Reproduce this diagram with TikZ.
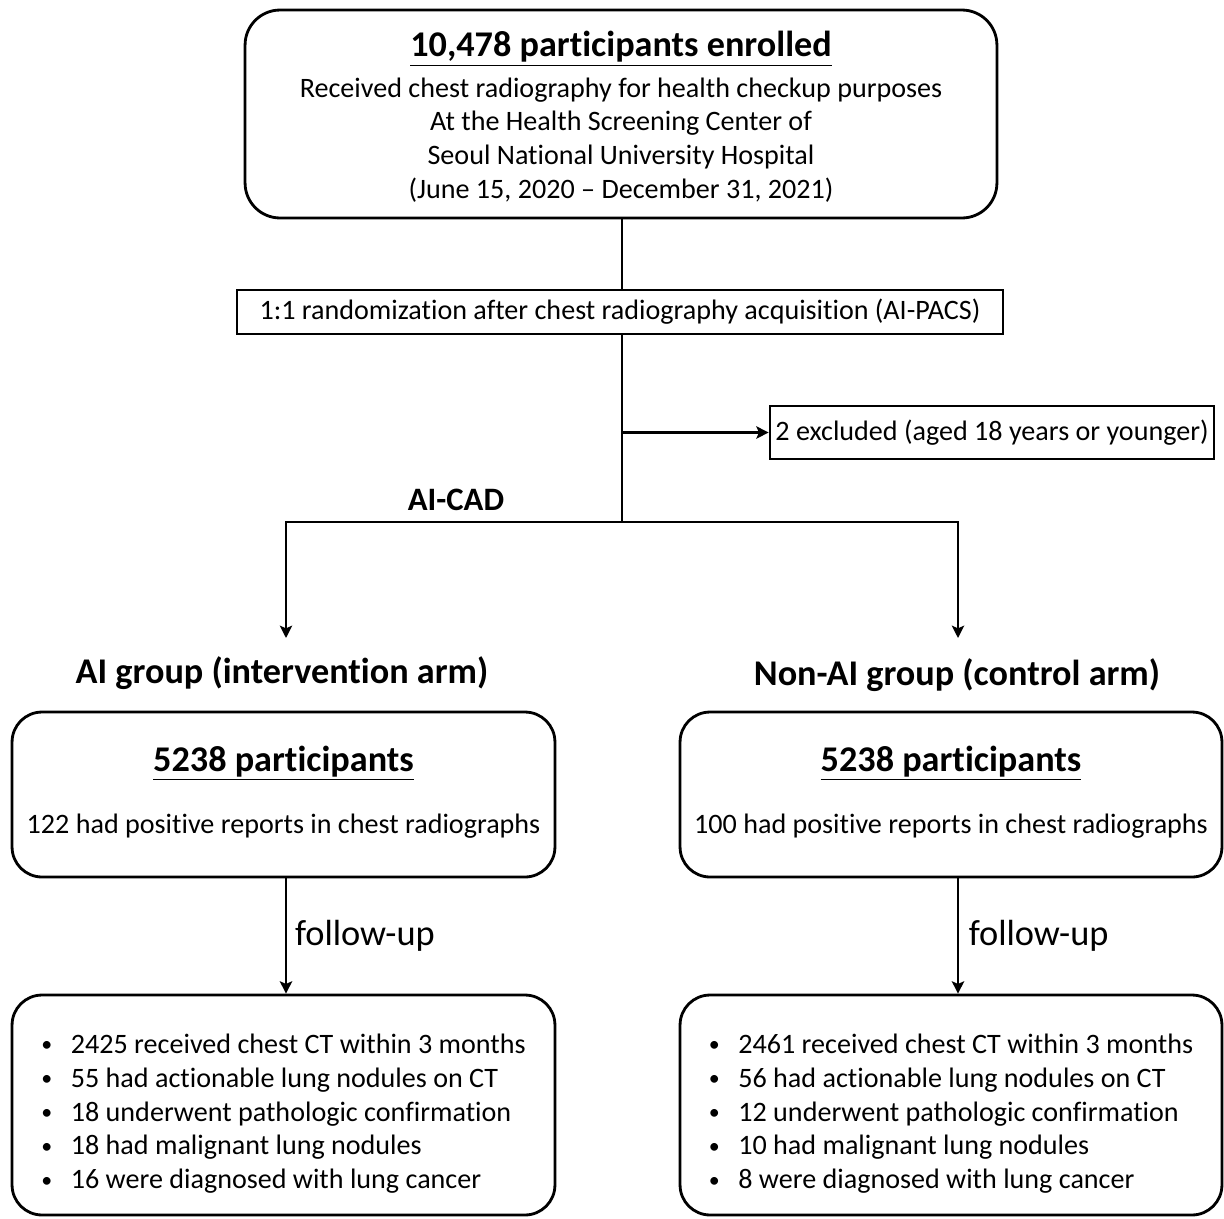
\documentclass[tikz,border=0pt]{standalone}
\usepackage{fontspec}
\setmainfont{Carlito}[Ligatures=NoCommon]
\usepackage{graphicx}
\usepackage{tikz}
\usetikzlibrary{arrows.meta,positioning,calc}
\newcommand{\bodyfont}{\fontsize{16}{19.3}\selectfont}
\newcommand{\bigbold}{\bfseries\fontsize{20.6}{24}\selectfont}
\newcommand{\itm}{\makebox[1.05em][l]{\raisebox{0.12ex}{\scalebox{0.78}{\textbullet}}}}
\tikzstyle{rbox}  = [rectangle, draw, line width=1.6pt, rounded corners=0.6cm,
                     align=center, inner sep=0pt, font=\bodyfont]
\tikzstyle{sbox}  = [rectangle, draw, line width=1.6pt, align=center, inner sep=0pt,
                     font=\bodyfont]
\tikzstyle{head}  = [font=\bigbold]
\tikzstyle{arrow} = [line width=1.6pt,-{Stealth[length=7pt,width=7pt,inset=1.5pt]}]
\tikzstyle{line}  = [line width=1.6pt]

\begin{document}
\begin{tikzpicture}[x=0.02cm,y=-0.02cm]
  \useasboundingbox (0,0) rectangle (1224,1218);

  % top of the chart
  \node[rbox, rounded corners=0.7cm, minimum width=15.04cm, minimum height=4.16cm] (enrol) at (621,114)
    {\rule{0pt}{18pt}{\bigbold\underline{10,478 participants enrolled}}\\[3.5pt]
     Received chest radiography for health checkup purposes\\
     At the Health Screening Center of\\
     Seoul National University Hospital\\
     (June 15, 2020 -- December 31, 2021)};
  \node[sbox, minimum width=15.32cm, minimum height=0.88cm] (rand) at (620,312)
    {1:1 randomization after chest radiography acquisition (AI-PACS)};
  \node[sbox, minimum width=8.88cm, minimum height=1.06cm] (excl) at (992,432.5)
    {2 excluded (aged 18 years or younger)};

  \coordinate (split) at (622,522);
  \coordinate (excljoin) at (split |- excl.west);
  \coordinate (aiend) at (286,638);
  \coordinate (nonaiend) at (958,638);

  \node[font=\bfseries\fontsize{18.6}{22}\selectfont] (aicad) at (456,500) {AI-CAD};

  % the two arms
  \node[head] (aihead) at (282,673) {AI group (intervention arm)};
  \node[head] (nonaihead) at (957,675) {Non-AI group (control arm)};

  \node[rbox, minimum width=10.86cm, minimum height=3.3cm] (aibox) at (283.5,794.5)
    {\rule{0pt}{19pt}{\bigbold\underline{5238 participants}}\\[16pt]
     122 had positive reports in chest radiographs\\[-9pt]};
  \node[rbox, minimum width=10.84cm, minimum height=3.3cm] (nonaibox) at (951,794.5)
    {\rule{0pt}{19pt}{\bigbold\underline{5238 participants}}\\[16pt]
     100 had positive reports in chest radiographs\\[-9pt]};

  \node[rbox, align=left, minimum width=10.86cm, minimum height=4.4cm] (aires) at (283.5,1105)
    {\rule{0pt}{21pt}\itm 2425 received chest CT within 3 months\\
     \itm 55 had actionable lung nodules on CT\\
     \itm 18 underwent pathologic confirmation\\
     \itm 18 had malignant lung nodules\\
     \itm 16 were diagnosed with lung cancer};
  \node[rbox, align=left, minimum width=10.84cm, minimum height=4.4cm] (nonaires) at (951,1105)
    {\rule{0pt}{21pt}\itm 2461 received chest CT within 3 months\\
     \itm 56 had actionable lung nodules on CT\\
     \itm 12 underwent pathologic confirmation\\
     \itm 10 had malignant lung nodules\\
     \itm 8 were diagnosed with lung cancer};

  % connectors
  \draw[line] (enrol.south -| split) -- (rand.north -| split);
  \draw[line] (rand.south -| split) -- (split);
  \draw[arrow] (excljoin) -- (excl.west);
  \draw[arrow] (split) -| (aiend);
  \draw[arrow] (split) -| (nonaiend);
  \draw[arrow] (aibox.south -| aiend) -- (aires.north -| aiend)
    node[midway, right, xshift=1pt, font=\fontsize{20.7}{24}\selectfont] (aifu) {follow-up};
  \draw[arrow] (nonaibox.south -| nonaiend) -- (nonaires.north -| nonaiend)
    node[midway, right, xshift=2pt, font=\fontsize{20.7}{24}\selectfont] (nonaifu) {follow-up};
\end{tikzpicture}
\end{document}
